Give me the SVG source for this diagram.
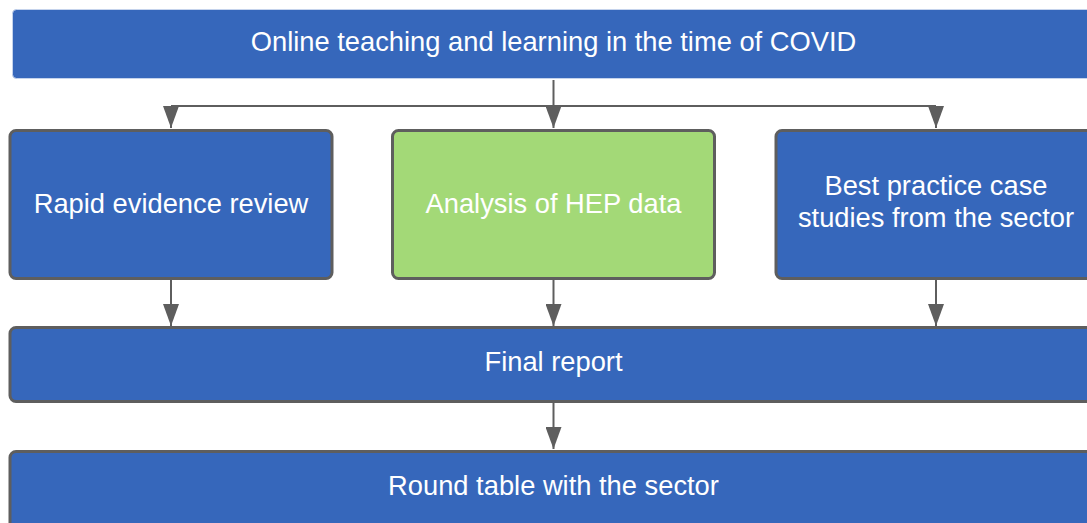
<svg xmlns="http://www.w3.org/2000/svg" width="1087" height="523" viewBox="0 0 1087 523">
<style>
.box{fill:#3667BB;stroke:#5E5E5E;stroke-width:3}
.green{fill:#A3D977;stroke:#5E5E5E;stroke-width:3}
.top{fill:#3667BB;stroke:#C5D3EC;stroke-width:1}
.t{font-family:"Liberation Sans",Arial,sans-serif;font-size:27.3px;fill:#FFFFFF;text-anchor:middle;dominant-baseline:central}
.c{fill:none;stroke:#5E5E5E;stroke-width:2}
</style>
<defs>
<marker id="ah" viewBox="0 0 22 16" refX="22" refY="8" markerWidth="22" markerHeight="16" markerUnits="userSpaceOnUse" orient="auto">
<path d="M0 0 L22 8 L0 16 Z" fill="#5E5E5E"/>
</marker>
</defs>
<rect width="1087" height="523" fill="#FFFFFF"/>
<g id="connectors">
<path class="c" d="M553.5 80 V106"/>
<path class="c" d="M171 106 H936"/>
<path class="c" d="M171 106 V128" marker-end="url(#ah)"/>
<path class="c" d="M553.5 106 V128" marker-end="url(#ah)"/>
<path class="c" d="M936 106 V128" marker-end="url(#ah)"/>
<path class="c" d="M171 280 V326" marker-end="url(#ah)"/>
<path class="c" d="M553.5 280 V326" marker-end="url(#ah)"/>
<path class="c" d="M936 280 V326" marker-end="url(#ah)"/>
<path class="c" d="M553.5 403 V449" marker-end="url(#ah)"/>
</g>
<g id="n-top">
<rect class="top" x="12.5" y="9.5" width="1082" height="69" rx="4"/>
<text class="t" x="553.5" y="41">Online teaching and learning in the time of COVID</text>
</g>
<g id="n-rapid">
<rect class="box" x="10" y="130.5" width="322" height="148" rx="6"/>
<text class="t" x="171" y="203">Rapid evidence review</text>
</g>
<g id="n-hep">
<rect class="green" x="392.5" y="130.5" width="322" height="148" rx="6"/>
<text class="t" x="553.5" y="203">Analysis of HEP data</text>
</g>
<g id="n-best">
<rect class="box" x="776" y="130.5" width="322" height="148" rx="6"/>
<text class="t" x="936" y="185">Best practice case</text>
<text class="t" x="936" y="217">studies from the sector</text>
</g>
<g id="n-final">
<rect class="box" x="10" y="327.5" width="1088" height="74" rx="6"/>
<text class="t" x="553.5" y="361">Final report</text>
</g>
<g id="n-round">
<rect class="box" x="10" y="451.5" width="1088" height="80" rx="6"/>
<text class="t" x="553.5" y="485">Round table with the sector</text>
</g>
</svg>
